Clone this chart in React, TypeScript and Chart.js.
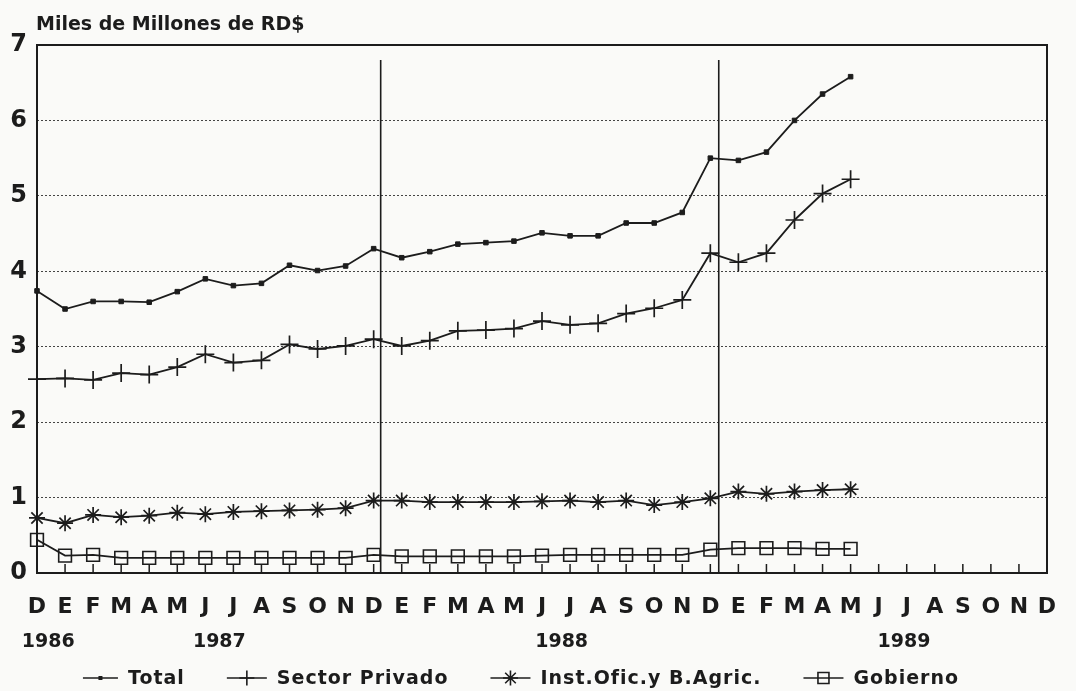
import React, { useEffect, useRef } from 'react';
import { Chart, registerables } from 'chart.js';

Chart.register(...registerables);

// ---------- data ----------
const monthLabels = [
  'D',
  'E', 'F', 'M', 'A', 'M', 'J', 'J', 'A', 'S', 'O', 'N', 'D',
  'E', 'F', 'M', 'A', 'M', 'J', 'J', 'A', 'S', 'O', 'N', 'D',
  'E', 'F', 'M', 'A', 'M', 'J', 'J', 'A', 'S', 'O', 'N', 'D',
];
const yearLabels = ['1986', '1987', '1988', '1989'];
const yearLabelAt = [0.4, 6.5, 18.7, 30.9];
const dividerMonths = [12.25, 24.3];
const dividerTop = 6.8;
const yMin = 0;
const yMax = 7;

const seriesNames = ['Total', 'Sector Privado', 'Inst.Ofic.y B.Agric.', 'Gobierno'];

const total = [
  3.74, 3.50, 3.60, 3.60, 3.59, 3.73, 3.90, 3.81, 3.84, 4.08, 4.01, 4.07,
  4.30, 4.18, 4.26, 4.36, 4.38, 4.40, 4.51, 4.47, 4.47, 4.64, 4.64, 4.78,
  5.50, 5.47, 5.58, 6.00, 6.35, 6.58,
];
const sectorPrivado = [
  2.57, 2.58, 2.56, 2.65, 2.63, 2.73, 2.90, 2.79, 2.82, 3.03, 2.97, 3.01,
  3.10, 3.01, 3.08, 3.21, 3.22, 3.24, 3.34, 3.29, 3.31, 3.44, 3.51, 3.62,
  4.24, 4.12, 4.24, 4.68, 5.03, 5.22,
];
const instOfic = [
  0.73, 0.66, 0.77, 0.74, 0.76, 0.80, 0.78, 0.81, 0.82, 0.83, 0.84, 0.86,
  0.96, 0.96, 0.94, 0.94, 0.94, 0.94, 0.95, 0.96, 0.94, 0.96, 0.90, 0.94,
  0.99, 1.08, 1.05, 1.08, 1.10, 1.11,
];
const gobierno = [
  0.44, 0.23, 0.24, 0.20, 0.20, 0.20, 0.20, 0.20, 0.20, 0.20, 0.20, 0.20,
  0.24, 0.22, 0.22, 0.22, 0.22, 0.22, 0.23, 0.24, 0.24, 0.24, 0.24, 0.24,
  0.31, 0.33, 0.33, 0.33, 0.32, 0.32,
];

// ---------- style ----------
const INK = '#1c1c1c';
const PAPER = '#fafaf8';
const FONT = '"DejaVu Sans", "Liberation Sans", sans-serif';
const titleText = 'Miles de Millones de RD$';

type Marker = 'dot' | 'cross' | 'star' | 'box';
const markers: Marker[] = ['dot', 'cross', 'star', 'box'];

function drawMarker(ctx: CanvasRenderingContext2D, m: Marker, x: number, y: number, r: number) {
  ctx.beginPath();
  if (m === 'dot') {
    ctx.fillRect(x - r, y - r, 2 * r, 2 * r);
    return;
  }
  if (m === 'cross' || m === 'star') {
    ctx.moveTo(x, y - r);
    ctx.lineTo(x, y + r);
    ctx.moveTo(x - r, y);
    ctx.lineTo(x + r, y);
  }
  if (m === 'star') {
    const d = r * Math.SQRT1_2;
    ctx.moveTo(x - d, y - d);
    ctx.lineTo(x + d, y + d);
    ctx.moveTo(x - d, y + d);
    ctx.lineTo(x + d, y - d);
  }
  if (m === 'box') {
    ctx.rect(x - r, y - r, 2 * r, 2 * r);
  }
  ctx.stroke();
}

const paperPlugin = {
  id: 'paper',
  beforeDraw(chart: any) {
    const { ctx, width, height } = chart;
    ctx.save();
    ctx.fillStyle = PAPER;
    ctx.fillRect(0, 0, width, height);
    ctx.restore();
  },
};

const framePlugin = {
  id: 'frame',
  beforeDatasetsDraw(chart: any) {
    const { ctx, chartArea: a, scales } = chart;
    const x = scales.x;
    const y = scales.y;
    ctx.save();
    ctx.strokeStyle = INK;
    ctx.lineWidth = 2;
    ctx.strokeRect(a.left, a.top, a.right - a.left, a.bottom - a.top);
    // inner month ticks
    ctx.lineWidth = 1.5;
    ctx.beginPath();
    monthLabels.forEach((_, i) => {
      const px = x.getPixelForValue(i);
      ctx.moveTo(px, a.bottom);
      ctx.lineTo(px, a.bottom - 9);
    });
    ctx.stroke();
    // year dividers
    ctx.lineWidth = 1.6;
    ctx.beginPath();
    dividerMonths.forEach((m) => {
      const px = x.getPixelForValue(m);
      ctx.moveTo(px, y.getPixelForValue(dividerTop));
      ctx.lineTo(px, a.bottom);
    });
    ctx.stroke();
    ctx.restore();
  },
};

const textPlugin = {
  id: 'texts',
  afterDraw(chart: any) {
    const { ctx, chartArea: a } = chart;
    ctx.save();
    ctx.fillStyle = INK;
    ctx.strokeStyle = INK;
    // title
    ctx.font = `bold 19px ${FONT}`;
    ctx.textBaseline = 'alphabetic';
    ctx.textAlign = 'left';
    ctx.fillText(titleText, a.left - 1, 30);

    // legend
    ctx.font = `bold 19px ${FONT}`;
    (ctx as any).letterSpacing = '1px';
    ctx.textBaseline = 'middle';
    const ly = 678;
    const gap = 42;
    const textGap = 10;
    const items = chart.data.datasets.map((ds: any, i: number) => {
      const mw = i === 0 ? 35 : 40;
      const tw = ctx.measureText(ds.label).width;
      return { label: ds.label, mw, tw, m: markers[i] };
    });
    const totalW =
      items.reduce((s: number, it: any) => s + it.mw + textGap + it.tw, 0) + gap * (items.length - 1);
    let cx = 521 - totalW / 2;
    items.forEach((it: any) => {
      ctx.lineWidth = 1.6;
      ctx.beginPath();
      ctx.moveTo(cx, ly);
      ctx.lineTo(cx + it.mw, ly);
      ctx.stroke();
      const r = it.m === 'dot' ? 2 : it.m === 'box' ? 5.5 : 7.5;
      drawMarker(ctx, it.m, cx + it.mw / 2, ly, r);
      ctx.fillText(it.label, cx + it.mw + textGap, ly + 1);
      cx += it.mw + textGap + it.tw + gap;
    });
    ctx.restore();
  },
};

const lineBase = {
  borderColor: INK,
  borderWidth: 1.8,
  tension: 0,
  clip: false as const,
  pointBorderColor: INK,
};

export default function App() {
  const ref = useRef<HTMLCanvasElement>(null);

  useEffect(() => {
    const canvas = ref.current;
    if (!canvas) return;
    const chart = new Chart(canvas, {
      type: 'line',
      data: {
        labels: monthLabels,
        datasets: [
          {
            ...lineBase,
            label: seriesNames[0],
            data: total,
            pointStyle: 'rect',
            pointRadius: 3.2,
            pointBackgroundColor: INK,
            pointBorderWidth: 1,
          },
          {
            ...lineBase,
            label: seriesNames[1],
            data: sectorPrivado,
            pointStyle: 'cross',
            pointRadius: 9,
            pointBorderWidth: 1.7,
          },
          {
            ...lineBase,
            label: seriesNames[2],
            data: instOfic,
            pointStyle: 'star',
            pointRadius: 8,
            pointBorderWidth: 1.7,
          },
          {
            ...lineBase,
            label: seriesNames[3],
            data: gobierno,
            pointStyle: 'rect',
            pointRadius: 9,
            pointBackgroundColor: 'rgba(0,0,0,0)',
            pointBorderWidth: 1.6,
          },
        ],
      },
      options: {
        responsive: false,
        animation: false,
        events: [],
        layout: { padding: { top: 45, right: 29, bottom: 34, left: 0 } },
        plugins: {
          legend: { display: false },
          title: { display: false },
          tooltip: { enabled: false },
        },
        scales: {
          x: {
            type: 'category',
            position: 'bottom',
            offset: false,
            grid: { display: false, offset: false },
            border: { display: false },
            ticks: {
              autoSkip: false,
              maxRotation: 0,
              minRotation: 0,
              color: INK,
              padding: 13,
              font: { family: FONT, size: 22, weight: 'bold' },
            },
            afterFit: (s: any) => {
              s.height = 50;
            },
          },
          y: {
            type: 'linear',
            min: yMin,
            max: yMax,
            ticks: {
              stepSize: 1,
              color: INK,
              padding: 10,
              font: { family: FONT, size: 24, weight: 'bold' },
            },
            grid: { color: '#444', lineWidth: 1, drawTicks: false },
            border: { display: false, dash: [2, 2] },
            afterFit: (s: any) => {
              s.width = 37;
            },
          },
          x2: {
            type: 'linear',
            position: 'bottom',
            min: 0,
            max: monthLabels.length - 1,
            grid: { display: false },
            border: { display: false },
            afterBuildTicks: (s: any) => {
              s.ticks = yearLabelAt.map((v) => ({ value: v }));
            },
            ticks: {
              autoSkip: false,
              maxRotation: 0,
              minRotation: 0,
              color: INK,
              padding: 0,
              font: { family: FONT, size: 19, weight: 'bold' },
              callback: (_v: any, i: number) => yearLabels[i],
            },
            afterFit: (s: any) => {
              s.height = 34;
            },
          },
        },
      } as any,
      plugins: [paperPlugin, framePlugin, textPlugin],
    });
    return () => chart.destroy();
  }, []);

  return (
    <div style={{ position: 'fixed', left: 0, top: 0, width: 1076, height: 691, background: PAPER }}>
      <canvas ref={ref} width={1076} height={691} style={{ display: 'block', width: 1076, height: 691 }} />
    </div>
  );
}
